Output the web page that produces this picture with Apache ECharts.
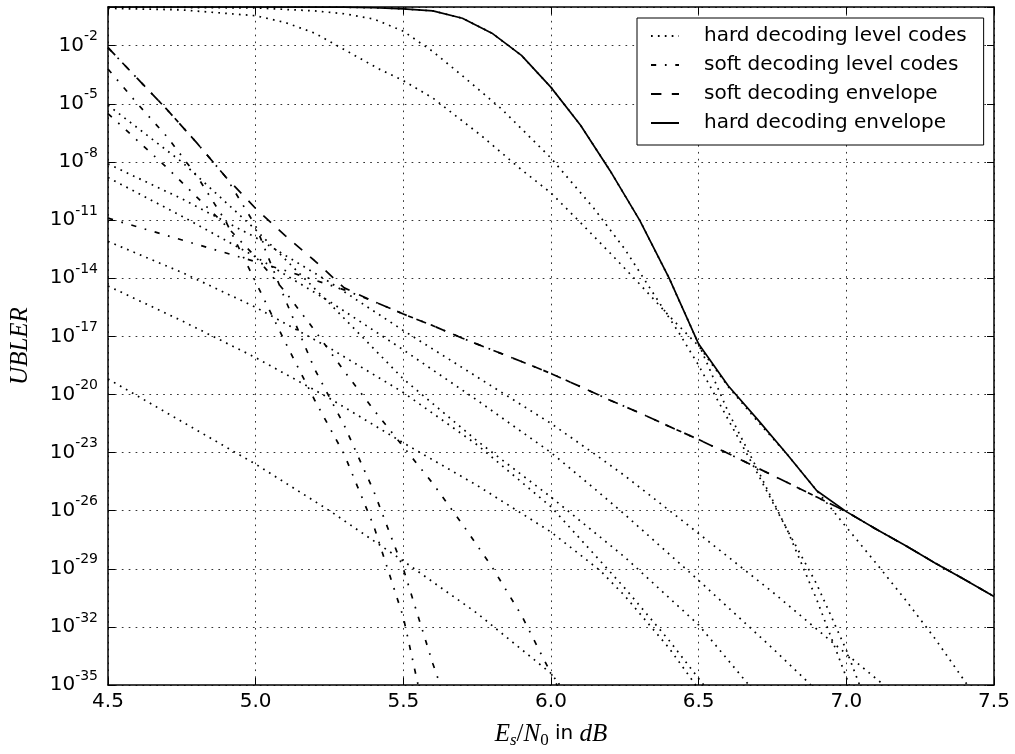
<!DOCTYPE html>
<html>
<head>
<meta charset="utf-8">
<script src="https://cdn.jsdelivr.net/npm/echarts/dist/echarts.min.js"></script>
<style>
  html, body { margin: 0; padding: 0; background: #fff; }
  #chart { width: 1015px; height: 754px; }
</style>
</head>
<body>
<div id="chart"></div>
<script>
// UBLER values are given as powers of ten (log10 of the error rate)

// hard decoding level codes (dotted)
var hardTopX = [4.5, 5.0, 5.3, 5.4, 5.5, 5.6, 5.7, 5.8, 5.9, 6.0, 6.1, 6.2, 6.3, 6.4, 6.5, 6.6, 6.7, 6.8, 6.9, 7.01];
var hardTopE = [0, 0, -0.01, -0.04, -0.1, -0.2, -0.58, -1.35, -2.5, -4.15, -6.1, -8.45, -11.0, -14.0, -17.4, -20.9, -23.9, -27.0, -30.6, -35];
var hardAX = [4.5, 5.0, 5.2, 5.3, 5.4, 5.5, 5.6, 5.7, 5.833, 6.0, 6.145, 6.25, 6.37, 6.432, 6.5, 6.6, 6.7, 6.8, 6.9, 7.0, 7.045];
var hardAE = [0, -0.05, -0.2, -0.35, -0.62, -1.25, -2.3, -3.55, -5.27, -7.8, -10.39, -12.5, -15.34, -16.79, -18.5, -21.3, -24.1, -27.0, -29.8, -33.2, -35];
var hardMidX = [4.5, 4.75, 5.0, 5.1, 5.2, 5.3, 5.42, 5.5, 5.6, 5.764, 5.9, 6.0, 6.107, 6.2, 6.3, 6.4, 6.5, 6.6, 6.7, 6.8, 6.9, 7.0, 7.1, 7.2, 7.3, 7.41];
var hardMidE = [-0.07, -0.15, -0.45, -0.8, -1.35, -2.2, -3.22, -3.8, -4.7, -6.64, -8.4, -9.6, -11.24, -12.7, -14.3, -15.95, -17.5, -19.6, -21.4, -23.1, -24.97, -26.85, -28.7, -30.6, -32.6, -35];
var hardBX = [4.5, 4.75, 5.0, 5.25, 5.5, 5.75, 6.0, 6.15, 6.25, 6.46, 6.75, 7.0, 7.127];
var hardBE = [-8.1, -9.9, -11.9, -14.2, -16.7, -19.1, -21.5, -23.1, -24.2, -26.7, -30.2, -33.4, -35];
var hardCX = [4.5, 4.75, 5.0, 5.25, 5.5, 5.75, 6.0, 6.15, 6.25, 6.5, 6.75, 6.88];
var hardCE = [-8.8, -10.8, -12.9, -15.2, -17.7, -20.3, -23.0, -24.9, -26.2, -29.6, -33.1, -35];
var hardDX = [4.5, 4.75, 5.0, 5.25, 5.5, 5.75, 6.0, 6.25, 6.5, 6.67];
var hardDE = [-5.07, -8.0, -11.5, -15.3, -19.2, -22.4, -25.3, -28.4, -31.9, -35];
var hardEX = [4.5, 4.75, 5.0, 5.25, 5.5, 5.75, 6.0, 6.167, 6.25, 6.4, 6.517];
var hardEE = [-12.1, -13.7, -15.5, -17.6, -19.9, -22.6, -25.8, -28.6, -30.0, -32.7, -35];
var hardFX = [4.5, 4.75, 5.0, 5.25, 5.5, 5.75, 6.0, 6.167, 6.25, 6.4, 6.49];
var hardFE = [-14.4, -16.2, -18.1, -20.2, -22.5, -24.7, -27.1, -29.1, -30.4, -33.1, -35];
var hardGX = [4.5, 4.75, 5.0, 5.25, 5.5, 5.75, 6.0, 6.03];
var hardGE = [-19.2, -21.4, -23.6, -26.0, -28.6, -31.3, -34.4, -35];

// soft decoding level codes (dash-dot)
var softAX = [4.5, 4.6, 4.7, 4.8, 4.9, 5.0, 5.1, 5.2, 5.3, 5.4, 5.5, 5.55];
var softAE = [-3.2, -5.0, -6.7, -8.7, -11.1, -14.2, -17.3, -20.3, -23.1, -26.8, -31.5, -35];
var softBX = [4.5, 4.6, 4.7, 4.8, 4.9, 5.0, 5.1, 5.2, 5.3, 5.4, 5.5, 5.6, 5.625];
var softBE = [-2.1, -3.7, -5.3, -7.0, -8.8, -11.3, -15.1, -18.7, -21.6, -25.0, -29.0, -33.9, -35];
var softCX = [4.5, 4.6, 4.7, 4.8, 4.9, 5.0, 5.1, 5.2, 5.3, 5.4, 5.5, 5.6, 5.7, 5.8, 5.9, 6.0, 6.02];
var softCE = [-5.5, -6.9, -8.3, -9.8, -11.3, -12.9, -14.7, -16.7, -18.8, -20.8, -22.7, -24.6, -26.7, -28.9, -31.4, -34.4, -35];
var softFlatX = [4.5, 4.6, 4.7, 4.8, 4.9, 5.0, 5.1, 5.2, 5.3, 5.4, 5.5, 5.6, 5.7, 5.8, 5.9, 6.0,
                 6.1, 6.2, 6.3, 6.4, 6.5, 6.6, 6.7, 6.8, 6.9, 7.0, 7.1, 7.2, 7.3, 7.4, 7.5];
var softFlatE = [-10.9, -11.35, -11.8, -12.25, -12.7, -13.15, -13.6, -14.1, -14.6, -15.2, -15.85, -16.45, -17.1, -17.7, -18.3, -18.92,
                 -19.6, -20.3, -20.95, -21.65, -22.33, -23.05, -23.8, -24.55, -25.3, -26.05, -26.95, -27.8, -28.7, -29.55, -30.43];

// envelopes
var softEnvX = [4.5, 4.6, 4.7, 4.8, 4.9, 5.0, 5.1, 5.2, 5.3, 5.4, 5.5, 5.6, 5.7, 5.8, 5.9, 6.0,
                6.1, 6.2, 6.3, 6.4, 6.5, 6.6, 6.7, 6.8, 6.9, 7.0, 7.1, 7.2, 7.3, 7.4, 7.5];
var softEnvE = [-2.1, -3.7, -5.3, -7.0, -8.8, -10.4, -11.8, -13.1, -14.5, -15.2, -15.85, -16.45, -17.1, -17.7, -18.3, -18.92,
                -19.6, -20.3, -20.95, -21.65, -22.33, -23.05, -23.8, -24.55, -25.3, -26.05, -26.95, -27.8, -28.7, -29.55, -30.43];
var hardEnvX = [4.5, 5.0, 5.3, 5.4, 5.5, 5.6, 5.7, 5.8, 5.9, 6.0, 6.1, 6.2, 6.3, 6.4, 6.5,
                6.6, 6.7, 6.8, 6.9, 7.0, 7.1, 7.2, 7.3, 7.4, 7.5];
var hardEnvE = [0, 0, -0.01, -0.04, -0.1, -0.2, -0.58, -1.35, -2.5, -4.15, -6.1, -8.45, -11.0, -14.0, -17.4,
                -19.55, -21.3, -23.1, -24.97, -26.05, -26.95, -27.8, -28.7, -29.55, -30.43];

var legendNames = ['hard decoding level codes', 'soft decoding level codes', 'soft decoding envelope', 'hard decoding envelope'];
var xTicks = { min: 4.5, max: 7.5, step: 0.5 };
var yTicks = { min: -35, max: 0, step: 3 };

var DOTTED = [1.7, 5.2];
var DASHDOT = [5.2, 8.7, 1.7, 8.7];
var DASHED = [10.4, 10.4];

function pairs(xs, es) {
  return xs.map(function (x, i) { return [x, es[i]]; });
}

function line(name, xs, es, dash, z) {
  return {
    name: name,
    type: 'line',
    data: pairs(xs, es),
    showSymbol: false,
    symbol: 'none',
    silent: true,
    clip: true,
    z: z,
    lineStyle: { color: '#000', width: 1.7, type: dash, cap: 'butt' },
    // no markers are drawn; this only hides the dot in the legend icon
    itemStyle: { color: '#000', opacity: 0 }
  };
}

var series = [
  line(legendNames[0], hardAX, hardAE, DOTTED, 2),
  line(legendNames[0], hardTopX, hardTopE, DOTTED, 2),
  line(legendNames[0], hardMidX, hardMidE, DOTTED, 2),
  line(legendNames[0], hardBX, hardBE, DOTTED, 2),
  line(legendNames[0], hardCX, hardCE, DOTTED, 2),
  line(legendNames[0], hardDX, hardDE, DOTTED, 2),
  line(legendNames[0], hardEX, hardEE, DOTTED, 2),
  line(legendNames[0], hardFX, hardFE, DOTTED, 2),
  line(legendNames[0], hardGX, hardGE, DOTTED, 2),
  line(legendNames[1], softAX, softAE, DASHDOT, 3),
  line(legendNames[1], softBX, softBE, DASHDOT, 3),
  line(legendNames[1], softCX, softCE, DASHDOT, 3),
  line(legendNames[1], softFlatX, softFlatE, DASHDOT, 3),
  line(legendNames[2], softEnvX, softEnvE, DASHED, 4),
  line(legendNames[3], hardEnvX, hardEnvE, 'solid', 5)
];

var font = 'DejaVu Sans';
var mathFont = 'Liberation Serif';

var frameAxis = { show: true, onZero: false, lineStyle: { color: '#000', width: 1.5 } };
var inTick = { show: true, inside: true, length: 7, lineStyle: { color: '#000', width: 1 } };
var gridLine = { show: true, lineStyle: { color: '#000', width: 0.8, type: [1.7, 5.2] } };

var chart = echarts.init(document.getElementById('chart'), null, { renderer: 'canvas' });
chart.setOption({
  animation: false,
  backgroundColor: '#fff',
  textStyle: { fontFamily: font, color: '#000' },
  grid: { left: 107, right: 21, top: 7, bottom: 63, containLabel: false },
  legend: {
    data: legendNames,
    orient: 'vertical',
    left: 637,
    top: 18,
    padding: [8, 17, 12, 13],
    itemGap: 9,
    itemWidth: 28,
    itemHeight: 14,
    backgroundColor: '#fff',
    borderColor: '#000',
    borderWidth: 1,
    borderRadius: 0,
    selectedMode: false,
    itemStyle: { opacity: 0 },
    textStyle: { fontFamily: font, fontSize: 20, color: '#000', lineHeight: 20, padding: [0, 0, 0, 20] }
  },
  xAxis: [{
    type: 'value',
    min: xTicks.min, max: xTicks.max, interval: xTicks.step,
    axisLine: frameAxis, axisTick: inTick, splitLine: gridLine,
    axisLabel: { fontSize: 20, color: '#000', margin: 7, formatter: function (v) { return v.toFixed(1); } },
    name: '{i|E}{sb|s}{r|/}{i|N}{s0|0}{t| in }{i|dB}',
    nameLocation: 'middle',
    nameGap: 34,
    nameTextStyle: {
      rich: {
        i: { fontFamily: mathFont, fontStyle: 'italic', fontSize: 25, lineHeight: 30, color: '#000' },
        r: { fontFamily: mathFont, fontSize: 25, lineHeight: 30, color: '#000' },
        sb: { fontFamily: mathFont, fontStyle: 'italic', fontSize: 17, lineHeight: 17, verticalAlign: 'bottom', color: '#000' },
        s0: { fontFamily: mathFont, fontSize: 17, lineHeight: 17, verticalAlign: 'bottom', color: '#000' },
        t: { fontFamily: font, fontSize: 20, lineHeight: 30, color: '#000' }
      }
    }
  }, {
    type: 'value', position: 'top',
    min: xTicks.min, max: xTicks.max, interval: xTicks.step,
    axisLine: frameAxis, axisTick: inTick, splitLine: { show: false }, axisLabel: { show: false }
  }],
  yAxis: [{
    type: 'value',
    min: yTicks.min, max: yTicks.max, interval: yTicks.step,
    axisLine: frameAxis, axisTick: inTick, splitLine: gridLine,
    axisLabel: {
      margin: 10,
      formatter: function (v) { return v === 0 ? '' : '{b|10}{s|' + v + '}'; },
      rich: {
        b: { fontSize: 20, lineHeight: 32, color: '#000' },
        s: { fontSize: 14, lineHeight: 14, verticalAlign: 'top', color: '#000' }
      }
    },
    name: 'UBLER',
    nameLocation: 'middle',
    nameGap: 75,
    nameTextStyle: { fontFamily: mathFont, fontStyle: 'italic', fontSize: 25, color: '#000' }
  }, {
    type: 'value', position: 'right',
    min: yTicks.min, max: yTicks.max, interval: yTicks.step,
    axisLine: frameAxis, axisTick: inTick, splitLine: { show: false }, axisLabel: { show: false }
  }],
  series: series
});
</script>
</body>
</html>
